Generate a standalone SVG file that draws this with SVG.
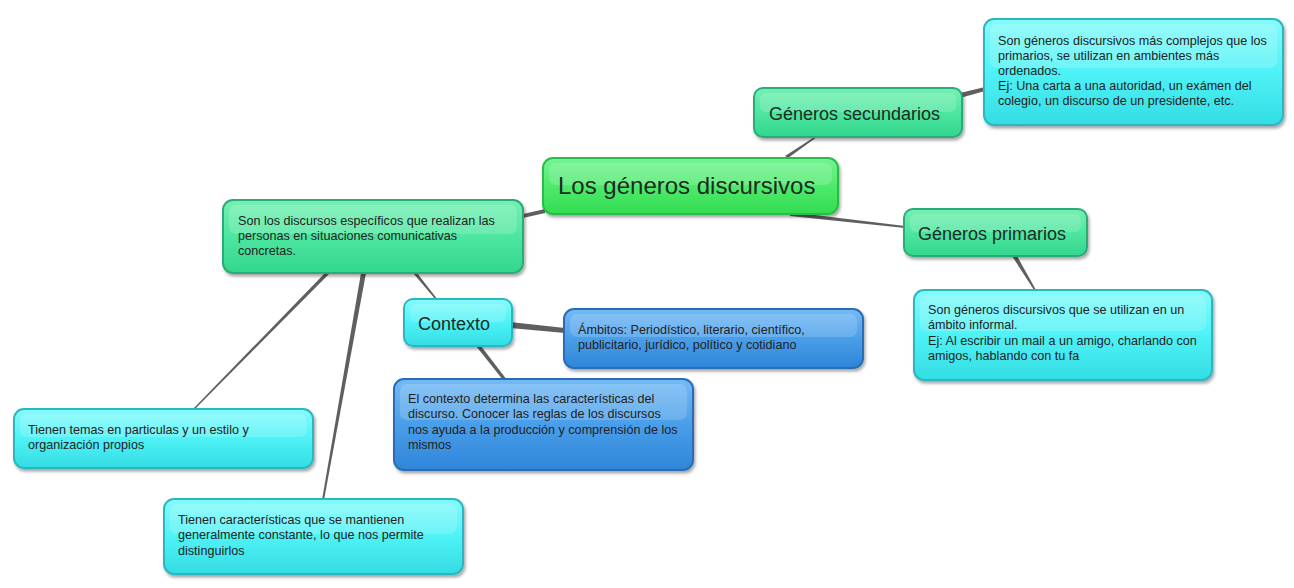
<svg xmlns="http://www.w3.org/2000/svg" width="1294" height="588" viewBox="0 0 1294 588">
<defs>
<linearGradient id="gGreen" x1="0" y1="0" x2="0" y2="1"><stop offset="0" stop-color="#74f492"/><stop offset="0.5" stop-color="#4eea6c"/><stop offset="1" stop-color="#33dc52"/></linearGradient>
<linearGradient id="gSea" x1="0" y1="0" x2="0" y2="1"><stop offset="0" stop-color="#76f0b2"/><stop offset="0.5" stop-color="#4de6a0"/><stop offset="1" stop-color="#33d68e"/></linearGradient>
<linearGradient id="gCyan" x1="0" y1="0" x2="0" y2="1"><stop offset="0" stop-color="#86fbfb"/><stop offset="0.5" stop-color="#4ff2f6"/><stop offset="1" stop-color="#33dde3"/></linearGradient>
<linearGradient id="gBlue" x1="0" y1="0" x2="0" y2="1"><stop offset="0" stop-color="#74bbf5"/><stop offset="0.5" stop-color="#4a9ee9"/><stop offset="1" stop-color="#2f85d9"/></linearGradient>
<filter id="sh" x="-10%" y="-20%" width="120%" height="150%"><feDropShadow dx="1.5" dy="2.5" stdDeviation="1.8" flood-color="#000" flood-opacity="0.35"/></filter>
</defs>
<style>
.box{stroke-width:2;filter:url(#sh)}
.green{fill:url(#gGreen);stroke:#2cbc48}
.sea{fill:url(#gSea);stroke:#2aab78}
.cyan{fill:url(#gCyan);stroke:#2bb7c2}
.blue{fill:url(#gBlue);stroke:#2a6db6}
.hl{fill:#ffffff;opacity:0.16}
.t{font-family:"Liberation Sans",Arial,sans-serif;fill:#1e2a24}
.big{font-size:24px}
.mid{font-size:18px}
.sm{font-size:12.6px;fill:#222}
.con{fill:#5f5f5f}
</style>
<rect width="1294" height="588" fill="#ffffff"/>
<g id="connectors">
<polygon class="con" points="785,156 788,158 817,137 816,136"/>
<polygon class="con" points="960,93 960,98 985,91 985,87"/>
<polygon class="con" points="790,212 790,216 905,228 905,226"/>
<polygon class="con" points="1012,256 1017,256 1036,290 1034,290"/>
<polygon class="con" points="523,214 523,218 545,213 545,209"/>
<polygon class="con" points="413,273 417,273 438,300 436,300"/>
<polygon class="con" points="325,273 330,273 194,410 192,410"/>
<polygon class="con" points="361,273 366,273 324,500 322,500"/>
<polygon class="con" points="510,322 510,328 565,333 565,328"/>
<polygon class="con" points="476,346 481,346 507,380 503,380"/>
</g>
<g id="n-main">
<rect class="box green" x="543" y="158" width="295" height="56" rx="10"/>
<rect class="hl" x="549" y="163" width="283" height="22" rx="7"/>
<text class="t big" x="558" y="194">Los géneros discursivos</text>
</g>
<g id="n-secundarios">
<rect class="box sea" x="754" y="88" width="208" height="49" rx="9"/>
<rect class="hl" x="760" y="93" width="196" height="19" rx="6"/>
<text class="t mid" x="769" y="120">Géneros secundarios</text>
</g>
<g id="n-secundarios-desc">
<rect class="box cyan" x="984" y="19" width="299" height="106" rx="10"/>
<rect class="hl" x="990" y="24" width="287" height="44" rx="7"/>
<text class="t sm" x="998"><tspan x="998" y="45">Son géneros discursivos más complejos que los</tspan><tspan x="998" y="60">primarios, se utilizan en ambientes más</tspan><tspan x="998" y="75">ordenados.</tspan><tspan x="998" y="90">Ej: Una carta a una autoridad, un exámen del</tspan><tspan x="998" y="105">colegio, un discurso de un presidente, etc.</tspan></text>
</g>
<g id="n-primarios">
<rect class="box sea" x="904" y="209" width="183" height="47" rx="9"/>
<rect class="hl" x="910" y="214" width="171" height="18" rx="6"/>
<text class="t mid" x="918" y="240">Géneros primarios</text>
</g>
<g id="n-primarios-desc">
<rect class="box cyan" x="914" y="290" width="298" height="90" rx="10"/>
<rect class="hl" x="920" y="295" width="286" height="36" rx="7"/>
<text class="t sm" x="928"><tspan x="928" y="314">Son géneros discursivos que se utilizan en un</tspan><tspan x="928" y="329">ámbito informal.</tspan><tspan x="928" y="345">Ej: Al escribir un mail a un amigo, charlando con</tspan><tspan x="928" y="360">amigos, hablando con tu fa</tspan></text>
</g>
<g id="n-definicion">
<rect class="box sea" x="223" y="200" width="300" height="73" rx="10"/>
<rect class="hl" x="229" y="205" width="288" height="29" rx="7"/>
<text class="t sm" x="238"><tspan x="238" y="225">Son los discursos específicos que realizan las</tspan><tspan x="238" y="240">personas en situaciones comunicativas</tspan><tspan x="238" y="255">concretas.</tspan></text>
</g>
<g id="n-contexto">
<rect class="box cyan" x="404" y="299" width="108" height="47" rx="9"/>
<rect class="hl" x="410" y="304" width="96" height="18" rx="6"/>
<text class="t mid" x="418" y="330">Contexto</text>
</g>
<g id="n-ambitos">
<rect class="box blue" x="564" y="309" width="299" height="59" rx="10"/>
<rect class="hl" x="570" y="314" width="287" height="23" rx="7"/>
<text class="t sm" x="578"><tspan x="578" y="334">Ámbitos: Periodístico, literario, científico,</tspan><tspan x="578" y="349">publicitario, jurídico, político y cotidiano</tspan></text>
</g>
<g id="n-contexto-desc">
<rect class="box blue" x="394" y="379" width="299" height="91" rx="10"/>
<rect class="hl" x="400" y="384" width="287" height="36" rx="7"/>
<text class="t sm" x="408"><tspan x="408" y="403">El contexto determina las características del</tspan><tspan x="408" y="418">discurso. Conocer las reglas de los discursos</tspan><tspan x="408" y="434">nos ayuda a la producción y comprensión de los</tspan><tspan x="408" y="449">mismos</tspan></text>
</g>
<g id="n-temas">
<rect class="box cyan" x="14" y="409" width="299" height="59" rx="10"/>
<rect class="hl" x="20" y="414" width="287" height="23" rx="7"/>
<text class="t sm" x="28"><tspan x="28" y="434">Tienen temas en particulas y un estilo y</tspan><tspan x="28" y="449">organización propios</tspan></text>
</g>
<g id="n-caracteristicas">
<rect class="box cyan" x="164" y="499" width="299" height="75" rx="10"/>
<rect class="hl" x="170" y="504" width="287" height="30" rx="7"/>
<text class="t sm" x="178"><tspan x="178" y="524">Tienen características que se mantienen</tspan><tspan x="178" y="539">generalmente constante, lo que nos permite</tspan><tspan x="178" y="555">distinguirlos</tspan></text>
</g>
</svg>
